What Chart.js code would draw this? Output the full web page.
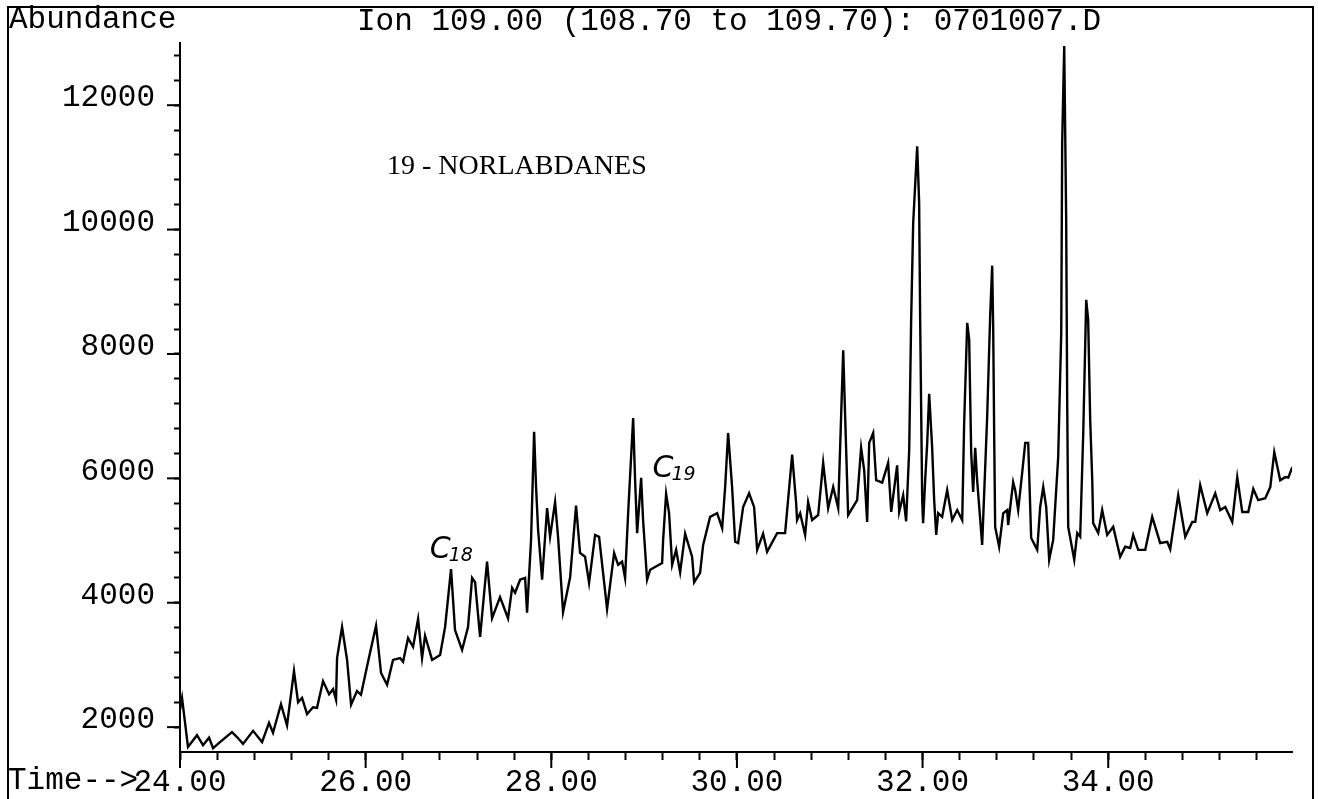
<!DOCTYPE html>
<html>
<head>
<meta charset="utf-8">
<title>Ion 109.00 (108.70 to 109.70): 0701007.D</title>
<script src="https://cdn.jsdelivr.net/npm/chart.js@4.4.1/dist/chart.umd.min.js"></script>
<style>
  html, body { margin: 0; padding: 0; background: #fff; }
  #wrap { position: relative; width: 1318px; height: 799px; }
</style>
</head>
<body>
<div id="wrap"><canvas id="chromChart" width="1318" height="799"></canvas></div>
<script>
const tiempos = [
  24.000, 24.022, 24.086, 24.183, 24.248, 24.313, 24.356, 24.431, 24.560, 24.614,
  24.679, 24.787, 24.884, 24.959, 25.002, 25.088, 25.153, 25.228, 25.272, 25.315,
  25.369, 25.433, 25.476, 25.541, 25.606, 25.649, 25.681, 25.692, 25.746, 25.800,
  25.843, 25.907, 25.950, 26.026, 26.112, 26.166, 26.231, 26.295, 26.371, 26.403,
  26.457, 26.511, 26.565, 26.608, 26.640, 26.716, 26.802, 26.856, 26.920, 26.963,
  27.039, 27.103, 27.147, 27.179, 27.233, 27.308, 27.362, 27.448, 27.534, 27.578,
  27.610, 27.664, 27.718, 27.739, 27.782, 27.815, 27.836, 27.858, 27.901, 27.955,
  27.987, 28.041, 28.073, 28.127, 28.203, 28.267, 28.310, 28.364, 28.407, 28.472,
  28.515, 28.601, 28.677, 28.720, 28.763, 28.795, 28.828, 28.882, 28.903, 28.925,
  28.968, 28.989, 29.032, 29.065, 29.194, 29.205, 29.237, 29.269, 29.302, 29.345,
  29.388, 29.442, 29.517, 29.539, 29.603, 29.636, 29.711, 29.787, 29.841, 29.873,
  29.905, 29.948, 29.981, 30.013, 30.067, 30.131, 30.185, 30.218, 30.282, 30.325,
  30.433, 30.519, 30.595, 30.638, 30.648, 30.681, 30.735, 30.767, 30.810, 30.875,
  30.929, 30.983, 31.037, 31.091, 31.145, 31.166, 31.198, 31.295, 31.338, 31.371,
  31.403, 31.425, 31.468, 31.500, 31.565, 31.629, 31.662, 31.726, 31.748, 31.791,
  31.823, 31.856, 31.877, 31.899, 31.942, 31.963, 31.974, 31.996, 32.006, 32.028,
  32.050, 32.071, 32.103, 32.125, 32.147, 32.168, 32.211, 32.265, 32.319, 32.373,
  32.427, 32.448, 32.481, 32.502, 32.524, 32.545, 32.567, 32.588, 32.642, 32.696,
  32.728, 32.750, 32.761, 32.772, 32.782, 32.825, 32.869, 32.912, 32.922, 32.976,
  32.998, 33.030, 33.073, 33.106, 33.138, 33.170, 33.235, 33.267, 33.300, 33.332,
  33.364, 33.407, 33.461, 33.494, 33.504, 33.526, 33.547, 33.558, 33.569, 33.634,
  33.666, 33.698, 33.731, 33.763, 33.784, 33.806, 33.828, 33.838, 33.892, 33.935,
  33.989, 34.054, 34.129, 34.183, 34.237, 34.269, 34.323, 34.399, 34.474, 34.560,
  34.636, 34.668, 34.754, 34.830, 34.905, 34.938, 34.991, 35.067, 35.153, 35.207,
  35.261, 35.336, 35.390, 35.444, 35.509, 35.563, 35.616, 35.692, 35.746, 35.789,
  35.853, 35.907, 35.940, 35.983
];

// Abundancia del ion 109
const abundancia = [
  2280, 2470, 1680, 1870, 1710, 1830, 1660, 1760, 1920, 1840,
  1730, 1940, 1760, 2070, 1910, 2370, 2030, 2900, 2400, 2470,
  2210, 2320, 2310, 2740, 2530, 2610, 2440, 3110, 3610, 3080,
  2360, 2580, 2520, 3050, 3630, 2870, 2680, 3080, 3110, 3050,
  3430, 3290, 3740, 3110, 3470, 3080, 3160, 3610, 4540, 3560,
  3240, 3610, 4400, 4330, 3450, 4660, 3750, 4090, 3750, 4240,
  4160, 4370, 4400, 3840, 5010, 6750, 5860, 5170, 4370, 5520,
  5060, 5620, 5060, 3850, 4410, 5560, 4800, 4740, 4320, 5090,
  5060, 3900, 4800, 4610, 4660, 4400, 5440, 6970, 5970, 5120,
  6010, 5330, 4370, 4530, 4640, 5010, 5750, 5440, 4610, 4850,
  4490, 5110, 4740, 4330, 4480, 4930, 5380, 5440, 5200, 5860,
  6730, 5860, 4980, 4960, 5540, 5760, 5540, 4850, 5110, 4820,
  5120, 5120, 6380, 5600, 5330, 5440, 5090, 5620, 5330, 5410,
  6250, 5520, 5860, 5520, 8060, 6990, 5410, 5650, 6490, 6130,
  5300, 6570, 6730, 5970, 5930, 6250, 5460, 6210, 5460, 5730,
  5310, 6460, 8550, 10110, 11340, 10430, 8550, 5650, 5280, 5970,
  6570, 7360, 6500, 5650, 5090, 5440, 5380, 5810, 5330, 5490,
  5330, 6890, 8500, 8230, 6410, 5780, 6490, 5970, 4930, 6990,
  8600, 9420, 8390, 6620, 5220, 4900, 5440, 5490, 5250, 5940,
  5810, 5490, 6090, 6570, 6570, 5040, 4850, 5540, 5860, 5540,
  4690, 5010, 6340, 8340, 11390, 12950, 10200, 7260, 5220, 4690,
  5120, 5060, 6730, 8870, 8550, 6940, 5970, 5280, 5120, 5490,
  5090, 5220, 4740, 4900, 4880, 5090, 4850, 4850, 5380, 4960,
  4980, 4860, 5730, 5060, 5300, 5300, 5890, 5440, 5760, 5490,
  5540, 5300, 6020, 5460, 5460, 5830, 5650, 5680, 5860, 6420,
  5970, 6020, 6010, 6180
];

// Marcas de los ejes
const xTicks = [24.0, 24.4, 24.8, 25.2, 25.6, 26.0, 26.4, 26.8, 27.2, 27.6, 28.0, 28.4,
  28.8, 29.2, 29.6, 30.0, 30.4, 30.8, 31.2, 31.6, 32.0, 32.4, 32.8, 33.2, 33.6, 34.0,
  34.4, 34.8, 35.2, 35.6];
const xLabelTicks = [24, 26, 28, 30, 32, 34];
const yTicks = [2000, 2400, 2800, 3200, 3600, 4000, 4400, 4800, 5200, 5600, 6000, 6400,
  6800, 7200, 7600, 8000, 8400, 8800, 9200, 9600, 10000, 10400, 10800, 11200, 11600,
  12000, 12400, 12800];
const yLabelTicks = [2000, 4000, 6000, 8000, 10000, 12000];

const titulo = 'Ion 109.00 (108.70 to 109.70): 0701007.D';

// Anotaciones (en coordenadas de datos)
const anotaciones = [
  { texto: '19 - NORLABDANES', t: 26.23, a: 11020, tipo: 'serif' },
  { texto: 'C', sub: '18', t: 26.69, a: 4720, tipo: 'mano' },
  { texto: 'C', sub: '19', t: 29.09, a: 6020, tipo: 'mano' }
];

const MONO = '"Liberation Mono", "DejaVu Sans Mono", monospace';
const esMarcada = (lista, v) => lista.some(m => Math.abs(m - v) < 1e-6);

const textosPlugin = {
  id: 'textos',
  afterDraw(chart) {
    const { ctx, chartArea } = chart;
    const xs = chart.scales.x;
    const ys = chart.scales.y;
    ctx.save();

    // Marco de la página
    ctx.strokeStyle = '#000';
    ctx.lineWidth = 2;
    ctx.beginPath();
    ctx.moveTo(8, 799);
    ctx.lineTo(8, 7);
    ctx.lineTo(1313, 7);
    ctx.lineTo(1313, 799);
    ctx.stroke();

    // Marcas largas en los valores rotulados
    xLabelTicks.forEach(v => {
      const px = xs.getPixelForValue(v);
      ctx.beginPath();
      ctx.moveTo(px, chartArea.bottom);
      ctx.lineTo(px, chartArea.bottom + 16);
      ctx.stroke();
    });
    yLabelTicks.forEach(v => {
      const py = ys.getPixelForValue(v);
      ctx.beginPath();
      ctx.moveTo(chartArea.left, py);
      ctx.lineTo(chartArea.left - 13, py);
      ctx.stroke();
    });

    // Textos de cabecera
    ctx.fillStyle = '#000';
    ctx.textAlign = 'left';
    ctx.textBaseline = 'alphabetic';
    ctx.font = '31px ' + MONO;
    ctx.fillText('Abundance', 9, 28);
    ctx.fillText(titulo, 357, 30);
    ctx.fillText('Time-->', 8, 789);

    // Anotaciones
    anotaciones.forEach(an => {
      const px = xs.getPixelForValue(an.t);
      const py = ys.getPixelForValue(an.a);
      if (an.tipo === 'serif') {
        ctx.font = '28px "Liberation Serif", "DejaVu Serif", serif';
        ctx.textBaseline = 'middle';
        ctx.fillText(an.texto, px, py);
      } else {
        ctx.textBaseline = 'alphabetic';
        ctx.font = 'italic 30px "DejaVu Sans", sans-serif';
        ctx.fillText(an.texto, px, py);
        const w = ctx.measureText(an.texto).width;
        ctx.font = 'italic 19px "DejaVu Sans", sans-serif';
        ctx.fillText(an.sub, px + w - 2, py + 3);
      }
    });
    ctx.restore();
  }
};

const ctx = document.getElementById('chromChart').getContext('2d');
new Chart(ctx, {
  type: 'line',
  data: {
    datasets: [{
      label: 'Ion 109.00',
      data: tiempos.map((t, i) => ({ x: t, y: abundancia[i] })),
      borderColor: '#000',
      borderWidth: 2.4,
      pointRadius: 0,
      tension: 0,
      fill: false
    }]
  },
  options: {
    responsive: false,
    animation: false,
    layout: { padding: { left: 10, right: 26, top: 43, bottom: 0 } },
    plugins: {
      legend: { display: false },
      tooltip: { enabled: false }
    },
    scales: {
      x: {
        type: 'linear',
        min: 24.0,
        max: 35.98,
        afterBuildTicks: (axis) => { axis.ticks = xTicks.map(v => ({ value: v })); },
        afterFit: (axis) => { axis.height = 47; },
        border: { display: true, color: '#000', width: 2 },
        grid: { drawOnChartArea: false, drawTicks: true, tickLength: 8, tickColor: '#000', tickWidth: 2 },
        ticks: {
          autoSkip: false,
          maxRotation: 0,
          padding: 4,
          color: '#000',
          font: { family: MONO, size: 31 },
          callback: (v) => esMarcada(xLabelTicks, v) ? Number(v).toFixed(2) : ''
        }
      },
      y: {
        type: 'linear',
        min: 1600,
        max: 13000,
        afterBuildTicks: (axis) => { axis.ticks = yTicks.map(v => ({ value: v })); },
        afterFit: (axis) => { axis.width = 170; },
        border: { display: true, color: '#000', width: 2 },
        grid: { drawOnChartArea: false, drawTicks: true, tickLength: 6, tickColor: '#000', tickWidth: 2 },
        ticks: {
          autoSkip: false,
          padding: 19,
          labelOffset: -7,
          color: '#000',
          font: { family: MONO, size: 31 },
          callback: (v) => esMarcada(yLabelTicks, v) ? String(v) : ''
        }
      }
    }
  },
  plugins: [textosPlugin]
});
</script>
</body>
</html>
